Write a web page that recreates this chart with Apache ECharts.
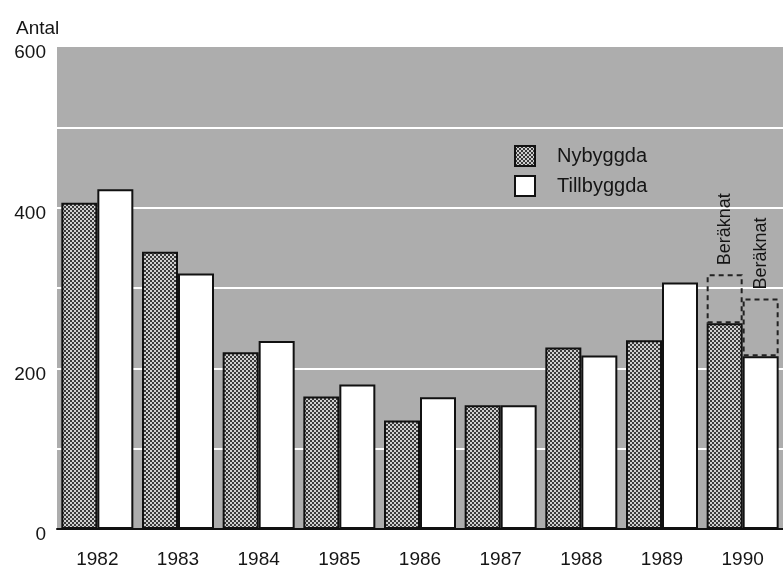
<!DOCTYPE html>
<html><head><meta charset="utf-8">
<script src="https://cdn.jsdelivr.net/npm/echarts@6/dist/echarts.min.js"></script>
<style>html,body{margin:0;padding:0;background:#fff}#c{width:783px;height:569px}</style>
</head><body><div id="c"></div>
<script>
var years = ['1982','1983','1984','1985','1986','1987','1988','1989','1990'];
var nybyggda = [406, 345, 220, 165, 135, 154, 226, 235, 256];
var tillbyggda = [423, 318, 234, 180, 164, 154, 216, 307, 215];
// estimated totals ("Beräknat") for 1990
var nybyggdaEst = [null, null, null, null, null, null, null, null, 317];
var tillbyggdaEst = [null, null, null, null, null, null, null, null, 287];
var yTicks = [0, 200, 400, 600];

function incr(est, base) {
  return est.map(function (v, i) { return v == null ? '-' : v - base[i]; });
}

var pc = document.createElement('canvas');
pc.width = 4; pc.height = 4;
var g = pc.getContext('2d');
g.fillStyle = '#3a3a3a'; g.fillRect(0, 0, 4, 4);
g.fillStyle = '#cfcfcf'; g.fillRect(0, 0, 2, 2); g.fillRect(2, 2, 2, 2);
var pattern = { image: pc, repeat: 'repeat' };

var font = 'Liberation Sans, Arial, Helvetica, sans-serif';
var txt = '#151515';
var chart = echarts.init(document.getElementById('c'));
var estLabel = {
  show: true, formatter: 'Beräknat', position: 'top', rotate: 90,
  align: 'left', verticalAlign: 'middle', distance: 9,
  fontFamily: font, fontSize: 18, color: txt
};
chart.setOption({
  animation: false,
  title: { text: 'Antal', left: 11, top: 14, textStyle: { fontFamily: font, fontSize: 19, fontWeight: 'normal', color: txt } },
  grid: { left: 57, top: 47, width: 729, height: 482, show: true, backgroundColor: '#adadad', borderWidth: 0 },
  legend: {
    data: ['Nybyggda', 'Tillbyggda'], orient: 'vertical', left: 509, top: 140,
    icon: 'rect', itemWidth: 20, itemHeight: 20, itemGap: 8,
    textStyle: { fontFamily: font, fontSize: 20, color: txt, padding: [0, 0, 0, 17] },
    itemStyle: { borderColor: '#111', borderWidth: 2 }
  },
  xAxis: {
    type: 'category', data: years,
    axisLine: { lineStyle: { color: '#111', width: 2 } },
    axisTick: { show: false },
    axisLabel: { fontFamily: font, fontSize: 19, color: txt, margin: 21 }
  },
  yAxis: {
    type: 'value', min: 0, max: 600, interval: 100,
    axisLine: { show: false }, axisTick: { show: false },
    axisLabel: {
      fontFamily: font, fontSize: 19, color: txt, margin: 11,
      verticalAlign: 'top', lineHeight: 12,
      formatter: function (v) { return yTicks.indexOf(v) >= 0 ? String(v) : ''; }
    },
    splitLine: { show: true, showMinLine: false, showMaxLine: false, lineStyle: { color: '#ffffff', width: 2 } }
  },
  series: [
    { name: 'Nybyggda', type: 'bar', stack: 'n', data: nybyggda, barWidth: 36, barGap: '0%', z: 3,
      itemStyle: { color: pattern, borderColor: '#111', borderWidth: 2 } },
    { name: 'Tillbyggda', type: 'bar', stack: 't', data: tillbyggda, barWidth: 36, barGap: '0%', z: 3,
      itemStyle: { color: '#ffffff', borderColor: '#111', borderWidth: 2 } },
    { name: 'estN', type: 'bar', stack: 'n', data: incr(nybyggdaEst, nybyggda), barWidth: 36, barGap: '0%', z: 2,
      itemStyle: { color: 'rgba(0,0,0,0)', borderColor: '#222', borderWidth: 2, borderType: [5, 4] }, label: estLabel },
    { name: 'estT', type: 'bar', stack: 't', data: incr(tillbyggdaEst, tillbyggda), barWidth: 36, barGap: '0%', z: 2,
      itemStyle: { color: 'rgba(0,0,0,0)', borderColor: '#222', borderWidth: 2, borderType: [5, 4] }, label: estLabel }
  ]
});
</script></body></html>
